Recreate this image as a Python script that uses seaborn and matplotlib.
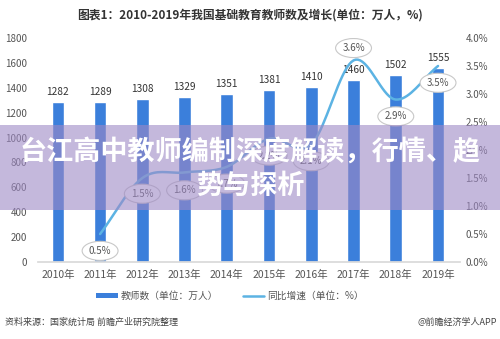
import numpy as np
import pandas as pd
import matplotlib
matplotlib.use("Agg")
import matplotlib.pyplot as plt
import seaborn as sns
from matplotlib.patches import Rectangle, Patch, Ellipse
from matplotlib.lines import Line2D

years = ["2010年", "2011年", "2012年", "2013年", "2014年", "2015年", "2016年", "2017年", "2018年", "2019年"]
teachers = [1282, 1289, 1308, 1329, 1351, 1381, 1410, 1460, 1502, 1555]
growth = [None, 0.5, 1.5, 1.6, 1.7, 2.2, 2.1, 3.6, 2.9, 3.5]
left_ticks = [0, 200, 400, 600, 800, 1000, 1200, 1400, 1600, 1800]
right_ticks = [0.0, 0.5, 1.0, 1.5, 2.0, 2.5, 3.0, 3.5, 4.0]
title = "图表1：2010-2019年我国基础教育教师数及增长(单位：万人，%)"
legend_labels = ["教师数（单位：万人）", "同比增速（单位：%）"]
source = "资料来源：国家统计局 前瞻产业研究院整理"
credit = "@前瞻经济学人APP"
banner_lines = ["台江高中教师编制深度解读，行情、趋", "势与探析"]

sns.set_theme(style="white")
plt.rcParams['font.family'] = ['Noto Sans CJK SC', 'DejaVu Sans']

BAR = "#3b7fdb"
LINE = "#5cb3e3"

fig = plt.figure(figsize=(5, 3.39), dpi=100)
ax = fig.add_axes([0.076, 0.227, 0.844, 0.661])

df = pd.DataFrame({"year": years, "teachers": teachers})
sns.barplot(data=df, x="year", y="teachers", color=BAR, width=0.3, ax=ax, saturation=1)
ax.set_xlim(-0.47, 9.52)
ax.set_ylim(0, 1800)
ax.set_yticks(left_ticks)
ax.set_yticklabels([str(t) for t in left_ticks], fontsize=7, color="#555555")
ax.tick_params(axis="x", labelsize=7.5, colors="#555555", length=0, pad=6)
ax.tick_params(axis="y", length=0, pad=8)
ax.set_xlabel("")
ax.set_ylabel("")
for s in ["top", "right", "left"]:
    ax.spines[s].set_visible(False)
ax.spines["bottom"].set_color("#d9d9d9")
for i, v in enumerate(teachers):
    ax.text(i, v + 40, str(v), ha="center", va="bottom", fontsize=7.3, color="#333333")

ax2 = ax.twinx()
gx = np.array([i for i, g in enumerate(growth) if g is not None], dtype=float)
gy = np.array([g for g in growth if g is not None], dtype=float)
# smooth rendering through the data points (Catmull-Rom)
P = np.column_stack([gx, gy])
Pext = np.vstack([P[0] - (P[1] - P[0]), P, P[-1] + (P[-1] - P[-2])])
xs, ys = [], []
for k in range(1, len(Pext) - 2):
    p0, p1, p2, p3 = Pext[k - 1], Pext[k], Pext[k + 1], Pext[k + 2]
    t = np.linspace(0, 1, 20)[:, None]
    c = 0.5 * ((2 * p1) + (-p0 + p2) * t + (2 * p0 - 5 * p1 + 4 * p2 - p3) * t ** 2 + (-p0 + 3 * p1 - 3 * p2 + p3) * t ** 3)
    xs.extend(c[:, 0]); ys.extend(c[:, 1])
sns.lineplot(x=xs, y=ys, sort=False, color=LINE, lw=1.8, ax=ax2)
ax2.set_ylim(0, 4.0)
ax2.set_yticks(right_ticks)
ax2.set_yticklabels([f"{t:.1f}%" for t in right_ticks], fontsize=7, color="#555555")
ax2.tick_params(axis="y", length=0, pad=4)
for s in ["top", "right", "left", "bottom"]:
    ax2.spines[s].set_visible(False)
ax2.grid(False)

offsets = {1: -0.3, 2: -0.28, 3: -0.32, 4: -0.3, 5: -0.3, 6: -0.3, 7: 0.22, 8: -0.3, 9: -0.3}
for xi, yi in zip(gx, gy):
    o = offsets[int(xi)]
    ax2.add_patch(Ellipse((xi, yi + o), 0.85, 0.34, facecolor="white", edgecolor="#c8c8c8", lw=0.8, zorder=5))
    ax2.text(xi, yi + o, f"{yi:.1f}%", ha="center", va="center", fontsize=7, color="#555555", zorder=6)

fig.text(0.5, 0.955, title, ha="center", va="center", fontsize=8.5, fontweight="bold", color="#333333")

handles = [Patch(facecolor=BAR, edgecolor="none"), Line2D([0], [0], color=LINE, lw=1.8)]
fig.legend(handles, legend_labels, loc="center", bbox_to_anchor=(0.46, 0.127), ncol=2, frameon=False,
           fontsize=7, handlelength=2.2, handleheight=0.5, columnspacing=2.5, handletextpad=0.3, labelcolor="#555555")

fig.text(0.01, 0.05, source, ha="left", va="center", fontsize=6.5, color="#444444")
fig.text(0.995, 0.05, credit, ha="right", va="center", fontsize=6.5, color="#444444")

fig.patches.append(Rectangle((0, 0.38), 1, 0.251, transform=fig.transFigure, facecolor="#9e89c5", alpha=0.6, edgecolor="none", zorder=10))
fig.text(0.5, 0.552, banner_lines[0], ha="center", va="center", fontsize=19.5, fontweight="bold", color="white", zorder=11)
fig.text(0.5, 0.451, banner_lines[1], ha="center", va="center", fontsize=19.5, fontweight="bold", color="white", zorder=11)

fig.savefig("out.png", dpi=100)
